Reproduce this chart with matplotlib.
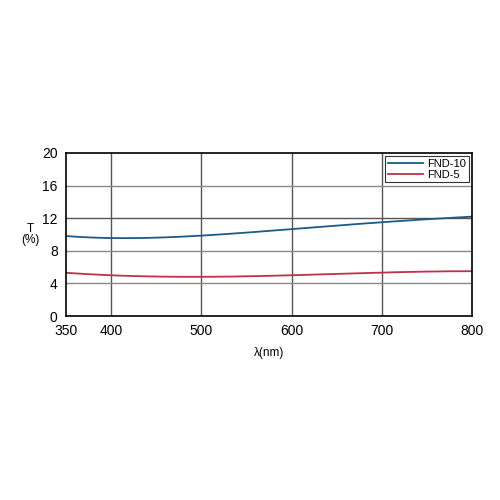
import matplotlib
matplotlib.use("Agg")
import matplotlib.pyplot as plt
import numpy as np

wavelength = [350, 400, 450, 500, 550, 600, 650, 700, 750, 800]
fnd10 = [9.8, 9.6, 9.6, 9.85, 10.2, 10.7, 11.1, 11.5, 11.85, 12.2]
fnd5 = [5.3, 5.0, 4.85, 4.8, 4.85, 5.0, 5.2, 5.3, 5.45, 5.5]
xticks = [350, 400, 500, 600, 700, 800]
yticks = [0, 4, 8, 12, 16, 20]

plt.rcParams['font.family'] = ['Liberation Sans', 'DejaVu Sans']
fig = plt.figure(figsize=(5, 5), dpi=100)
ax = fig.add_axes([0.132, 0.368, 0.812, 0.326])

xs = np.linspace(350, 800, 200)
def smooth(x, y):
    c = np.polyfit(x, y, 4)
    return np.polyval(c, xs)

ax.plot(xs, smooth(wavelength, fnd10), color='#1d5a85', lw=1.3, label='FND-10')
ax.plot(xs, smooth(wavelength, fnd5), color='#c0304a', lw=1.3, label='FND-5')

ax.set_xlim(350, 800)
ax.set_ylim(0, 20)
ax.set_xticks(xticks)
ax.set_yticks(yticks)
ax.tick_params(length=0, labelsize=10, pad=6)
for g in [400, 500, 600, 700]:
    ax.axvline(g, color='#555555', lw=1, zorder=0)
for g in [4, 8, 12, 16]:
    ax.axhline(g, color='#555555' if g == 12 else '#888888', lw=1, zorder=0)
for s in ax.spines.values():
    s.set_linewidth(1.2)

ax.set_xlabel('λ(nm)', fontsize=8.5, labelpad=6)
ax.text(-0.088, 0.5, 'T\n(%)', transform=ax.transAxes, ha='center', va='center', fontsize=8.5, linespacing=1.0)

leg = ax.legend(loc='upper right', fontsize=8, frameon=True, fancybox=False,
                edgecolor='black', handlelength=3.2, borderpad=0.2, labelspacing=0.1,
                handletextpad=0.4, borderaxespad=0.3)
leg.get_frame().set_linewidth(0.8)

fig.savefig('out.png', dpi=100)
